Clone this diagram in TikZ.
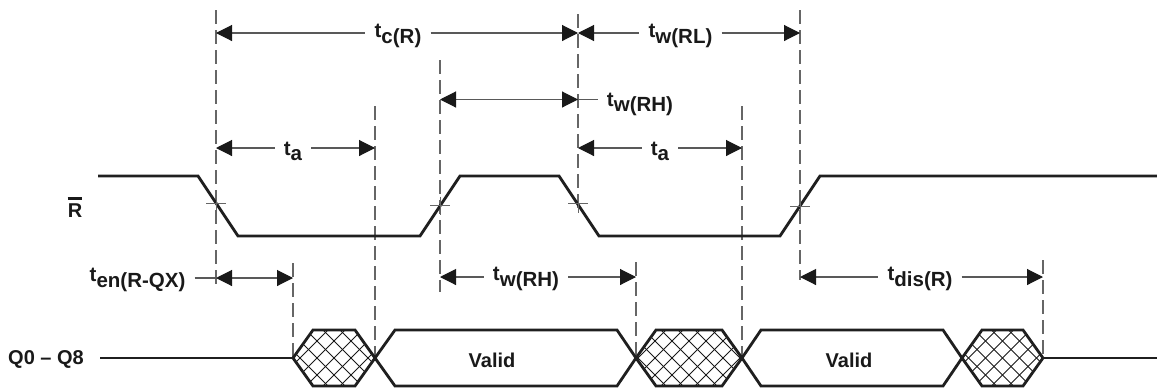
\documentclass[tikz,border=0pt]{standalone}
\usepackage{fontspec}
\setmainfont{Liberation Sans}
\usetikzlibrary{arrows.meta}
\newcommand{\tsub}[2]{#1\raisebox{-5.5pt}{#2}}
\newcommand{\hatchhex}[2]{%
  \begin{scope}
    \clip (#1,358) -- (#1+20,330) -- (#2-20,330) -- (#2,358) -- (#2-20,386) -- (#1+20,386) -- cycle;
    \foreach \k in {-9,...,9} {
      \draw[hatch] ({(#1+#2)/2+17*\k-40},318) -- ++(80,80);
      \draw[hatch] ({(#1+#2)/2+17*\k+40},318) -- ++(-80,80);
    }
  \end{scope}
  \draw[sig] (#1,358) -- (#1+20,330) -- (#2-20,330) -- (#2,358) -- (#2-20,386) -- (#1+20,386) -- cycle;
}
\begin{document}
\begin{tikzpicture}[x=1pt,y=-1pt,
  sig/.style={line width=2.8pt, draw=black!88, line join=miter},
  guide/.style={draw=black!60, line width=1.1pt, dash pattern=on 14pt off 6pt},
  dim/.style={draw=black!65, line width=1.1pt},
  lt/.style={dim, {Triangle[color=black!90,length=16pt,width=16pt]}-},
  rt/.style={dim, -{Triangle[color=black!90,length=16pt,width=16pt]}},
  bt/.style={dim, {Triangle[color=black!90,length=16pt,width=16pt]}-{Triangle[color=black!90,length=16pt,width=16pt]}},
  lbl/.style={font=\fontsize{20.5}{24}\selectfont\bfseries, text=black!90, inner xsep=9pt, inner ysep=0pt, anchor=base},
  sigl/.style={font=\fontsize{20}{24}\selectfont\bfseries, text=black!90, inner sep=0pt, anchor=base},
  cross/.style={draw=black!60, line width=1pt},
  hatch/.style={line width=1pt, draw=black!90}
]
\useasboundingbox (0,0) rectangle (1157,389);

% guide lines
\foreach \n/\x/\a/\b in {g1/216/10/285, g2/375/106/358, g3/440/60/292, g4/578/14/210,
  g5/742/106/357, g6/800/10/280, g7/636/262/355, g8/1043/260/357, g9/293/263/357} {
  \coordinate (\n t) at (\x,\a);
  \coordinate (\n b) at (\x,\b);
  \draw[guide] (\n t) -- (\n b);
}

% R signal
\draw[sig] (98,176) -- (198,176) -- (238,236) -- (420,236) -- (460,176) -- (559,176)
  -- (599,236) -- (780,236) -- (820,176) -- (1158,176);
\foreach \x/\y in {216/203,440/205.5,578/203.5,800/206} {
  \draw[cross] (\x-10,\y) -- (\x+10,\y) (\x,\y-9) -- (\x,\y+9);
}
\node[sigl] (rb) at (75,217) {R};
\draw[line width=2.6pt, black!90] ([yshift=4.5pt]rb.north west) -- ([yshift=4.5pt]rb.north east);

% Q signal
\node[sigl] (q) at (46,364) {Q0 -- Q8};
\draw[sig] (100,358) -- (293,358);
\hatchhex{293}{375}
\draw[sig] (375,358) -- (395,330) -- (617,330) -- (636,358) -- (617,386) -- (395,386) -- cycle;
\hatchhex{636}{742}
\draw[sig] (742,358) -- (761,330) -- (943,330) -- (962,358) -- (943,386) -- (761,386) -- cycle;
\hatchhex{962}{1043}
\draw[sig] (1043,358) -- (1158,358);
\node[sigl] (v1) at (492,367) {Valid};
\node[sigl] (v2) at (849,367) {Valid};

% dimension coordinates
\coordinate (c1) at (216,33); \coordinate (c2) at (578,33); \coordinate (c3) at (800,33);
\coordinate (h1) at (440,99.5); \coordinate (h2) at (578,99.5);
\coordinate (a1) at (216,148); \coordinate (a2) at (375,148);
\coordinate (a3) at (578,148); \coordinate (a4) at (742,148);
\coordinate (e1) at (216,278); \coordinate (e2) at (293,278);
\coordinate (e3) at (440,277); \coordinate (e4) at (636,277);
\coordinate (e5) at (800,277); \coordinate (e6) at (1043,277);

% labels
\node[lbl] (tc) at (398,37.5) {\tsub{t}{c(R)}};
\node[lbl] (twrl) at (680.5,37.5) {\tsub{t}{w(RL)}};
\node[lbl] (twrh1) at (640,106) {\tsub{t}{w(RH)}};
\node[lbl] (ta1) at (293,155) {\tsub{t}{a}};
\node[lbl] (ta2) at (660,155) {\tsub{t}{a}};
\node[lbl] (ten) at (137.5,281.5) {\tsub{t}{en(R-QX)}};
\node[lbl] (twrh2) at (526,280.5) {\tsub{t}{w(RH)}};
\node[lbl] (tdis) at (920,280.5) {\tsub{t}{dis(R)}};

% dimension lines
\draw[lt] (c1) -- (tc.west |- c1);
\draw[rt] (tc.east |- c1) -- (c2);
\draw[lt] (c2) -- (twrl.west |- c2);
\draw[rt] (twrl.east |- c2) -- (c3);
\draw[bt] (h1) -- (h2);
\draw[dim] (h2) -- (twrh1.west |- h2);
\draw[lt] (a1) -- (ta1.west |- a1);
\draw[rt] (ta1.east |- a1) -- (a2);
\draw[lt] (a3) -- (ta2.west |- a3);
\draw[rt] (ta2.east |- a3) -- (a4);
\draw[dim] (ten.east |- e1) -- (e1);
\draw[bt] (e1) -- (e2);
\draw[lt] (e3) -- (twrh2.west |- e3);
\draw[rt] (twrh2.east |- e3) -- (e4);
\draw[lt] (e5) -- (tdis.west |- e5);
\draw[rt] (tdis.east |- e5) -- (e6);
\end{tikzpicture}
\end{document}
